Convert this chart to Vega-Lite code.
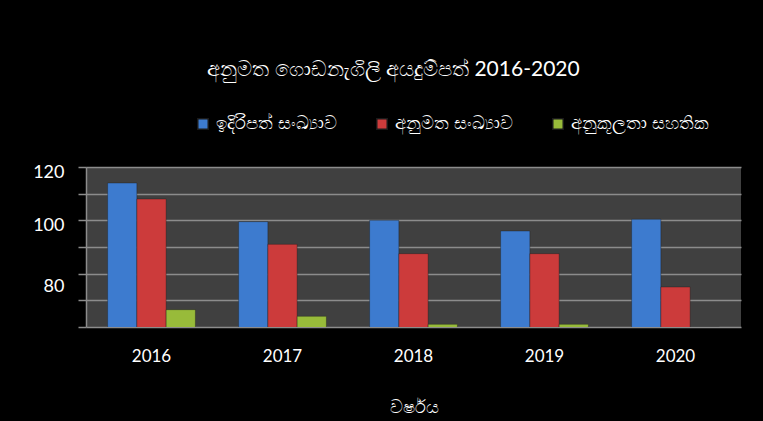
{
  "$schema": "https://vega.github.io/schema/vega-lite/v6.json",
  "width": 655,
  "height": 160,
  "autosize": {"type": "none"},
  "padding": {"left": 86, "top": 167, "right": 22, "bottom": 94},
  "background": "black",
  "title": {
    "text": "අනුමත ගොඩනැගිලි අයදුම්පත් 2016-2020",
    "color": "white",
    "fontSize": 21,
    "font": "Lato",
    "fontWeight": "normal",
    "offset": 35,
    "dx": -20
  },
  "data": {
    "values": [
      {"year": "2016", "series": "ඉදිරිපත් සංඛ්‍යාව", "value": 114},
      {"year": "2016", "series": "අනුමත සංඛ්‍යාව", "value": 108},
      {"year": "2016", "series": "අනුකූලතා සහතික", "value": 66.5},
      {"year": "2017", "series": "ඉදිරිපත් සංඛ්‍යාව", "value": 99.5},
      {"year": "2017", "series": "අනුමත සංඛ්‍යාව", "value": 91},
      {"year": "2017", "series": "අනුකූලතා සහතික", "value": 64},
      {"year": "2018", "series": "ඉදිරිපත් සංඛ්‍යාව", "value": 100},
      {"year": "2018", "series": "අනුමත සංඛ්‍යාව", "value": 87.5},
      {"year": "2018", "series": "අනුකූලතා සහතික", "value": 61},
      {"year": "2019", "series": "ඉදිරිපත් සංඛ්‍යාව", "value": 96},
      {"year": "2019", "series": "අනුමත සංඛ්‍යාව", "value": 87.5},
      {"year": "2019", "series": "අනුකූලතා සහතික", "value": 61},
      {"year": "2020", "series": "ඉදිරිපත් සංඛ්‍යාව", "value": 100.4},
      {"year": "2020", "series": "අනුමත සංඛ්‍යාව", "value": 75},
      {"year": "2020", "series": "අනුකූලතා සහතික", "value": 60}
    ]
  },
  "mark": {"type": "bar", "clip": true, "stroke": "#1a1a1a", "strokeWidth": 0.6, "strokeOpacity": 0.6},
  "encoding": {
    "x": {
      "field": "year",
      "type": "nominal",
      "scale": {"paddingInner": 0.33, "paddingOuter": 0.165},
      "axis": {
        "title": "වර්ෂය",
        "labelAngle": 0,
        "labelColor": "white",
        "labelFont": "Lato",
        "labelFontSize": 17,
        "labelPadding": 21,
        "ticks": false,
        "domain": false,
        "titleColor": "white",
        "titleFont": "Lato",
        "titleFontSize": 18,
        "titleFontWeight": "normal",
        "titlePadding": 34
      }
    },
    "xOffset": {
      "field": "series",
      "type": "nominal",
      "sort": ["ඉදිරිපත් සංඛ්‍යාව", "අනුමත සංඛ්‍යාව", "අනුකූලතා සහතික"],
      "scale": {"paddingInner": 0, "paddingOuter": 0}
    },
    "y": {
      "field": "value",
      "type": "quantitative",
      "scale": {"domain": [60, 120], "zero": false, "nice": false},
      "axis": {
        "title": null,
        "values": [60, 70, 80, 90, 100, 110, 120],
        "labelExpr": "datum.value == 80 ? ['', '80'] : (datum.value == 120 || datum.value == 100 ? datum.label : '')",
        "labelLineHeight": 8,
        "grid": true,
        "gridColor": "#8c8c8c",
        "gridWidth": 1.5,
        "domain": true,
        "domainColor": "#8c8c8c",
        "domainWidth": 1.5,
        "ticks": true,
        "tickColor": "#8c8c8c",
        "tickSize": 8,
        "tickWidth": 1.5,
        "labelColor": "white",
        "labelFont": "Lato",
        "labelFontSize": 18,
        "labelPadding": 14,
        "labelOffset": 5
      }
    },
    "color": {
      "field": "series",
      "type": "nominal",
      "scale": {
        "domain": ["ඉදිරිපත් සංඛ්‍යාව", "අනුමත සංඛ්‍යාව", "අනුකූලතා සහතික"],
        "range": ["#3d7bcf", "#cc3b3b", "#98bb3a"]
      },
      "legend": {
        "title": null,
        "orient": "none",
        "legendX": 108,
        "legendY": -52,
        "direction": "horizontal",
        "symbolType": "square",
        "symbolSize": 110,
        "labelColor": "white",
        "labelFont": "Lato",
        "labelFontSize": 18,
        "columnPadding": 36,
        "labelOffset": 4
      }
    }
  },
  "config": {
    "view": {"fill": "#404040", "stroke": null}
  }
}
